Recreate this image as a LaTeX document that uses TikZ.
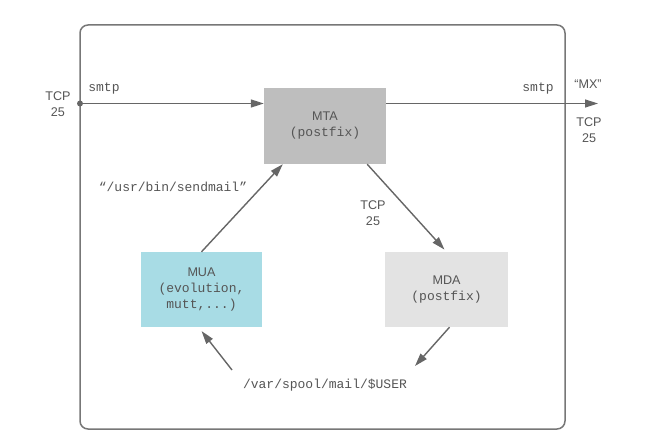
\documentclass[tikz,border=0pt]{standalone}
\usepackage{fontspec}
\setsansfont{Liberation Sans}
\setmonofont{Liberation Mono}
\usetikzlibrary{arrows.meta}
\definecolor{txtgray}{HTML}{555555}
\definecolor{linegray}{HTML}{666666}
\definecolor{framegray}{HTML}{777777}
\definecolor{mtafill}{HTML}{BEBEBE}
\definecolor{muafill}{HTML}{A8DCE5}
\definecolor{mdafill}{HTML}{E3E3E3}
\newcommand{\sflab}{\fontsize{12.6}{16}\selectfont\sffamily}
\newcommand{\ttlab}{\fontsize{13}{16}\selectfont\ttfamily}
\begin{document}
\begin{tikzpicture}[x=1pt,y=-1pt,
  box/.style={draw=none,minimum width=121pt,minimum height=75pt,align=center,text=txtgray,inner sep=0pt,font=\fontsize{13}{16}\selectfont},
  lab/.style={text=txtgray,align=center,inner sep=0pt,font=\fontsize{13}{16}\selectfont},
  conn/.style={draw=linegray,line width=1.4pt,-{Triangle[length=13pt,width=8pt]}},
  frame/.style={draw=framegray,line width=1.5pt,rounded corners=8pt}
]
\useasboundingbox (0,0) rectangle (660,441);
\draw[frame] (80,25) rectangle (565,429);

\node[box,fill=mtafill,minimum width=122pt,minimum height=76pt] (MTA) at (325,126) {\sflab MTA\\\ttlab (postfix)};
\node[box,fill=muafill] (MUA) at (201.5,289.5) {\sflab MUA\\\ttlab (evolution,\\\ttlab mutt,...)};
\node[box,fill=mdafill,minimum width=123pt] (MDA) at (446.5,289.5) {\sflab MDA\\\ttlab (postfix)};

\node[circle,fill=linegray,inner sep=0pt,minimum size=6pt] (dot) at (80,103.5) {};
\coordinate (out) at (598,103.5);
\coordinate (spoolR) at (415,366);
\coordinate (spoolL) at (232,370);

\draw[conn] (dot) -- (dot -| MTA.west);
\draw[conn] (MTA.east |- dot) -- (out);
\draw[conn] (MUA.north) -- ([xshift=19pt]MTA.south west);
\draw[conn,shorten >=3pt] ([xshift=-19pt]MTA.south east) -- (MDA.north);
\draw[conn] ([xshift=3pt]MDA.south) -- (spoolR);
\draw[conn,shorten >=5pt] (spoolL) -- ([xshift=-3pt]MUA.south);

\node[lab] (tcpL) at (58,104) {\sflab TCP\\\sflab 25};
\node[lab] (smtpL) at (104,89) {\ttlab smtp};
\node[lab] (smtpR) at (538,89) {\ttlab smtp};
\node[lab] (mx) at (588,84) {\sflab ``MX''};
\node[lab] (tcpR) at (589,130) {\sflab TCP\\\sflab 25};
\node[lab] (sendmail) at (173,187) {\ttlab “/usr/bin/sendmail”};
\node[lab] (tcpM) at (373,213.5) {\sflab TCP\\\sflab 25};
\node[lab] (spool) at (325,385) {\ttlab /var/spool/mail/\$USER};
\end{tikzpicture}
\end{document}
